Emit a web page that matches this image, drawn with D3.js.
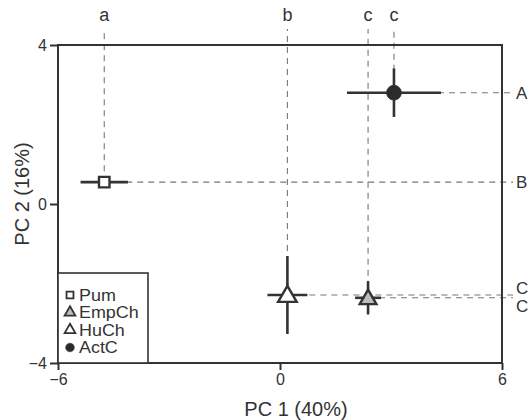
<!DOCTYPE html>
<html>
<head>
<meta charset="utf-8">
<script src="https://cdn.jsdelivr.net/npm/d3@7"></script>
<style>
  html, body { margin: 0; padding: 0; background: #fff; }
  svg { display: block; font-family: "Liberation Sans", Arial, sans-serif; }
</style>
</head>
<body>
<svg id="chart" width="532" height="420"></svg>
<script>
// Group means on the first two principal components with error bars
const groups   = ["Pum", "EmpCh", "HuCh", "ActC"];
const pc1      = [-4.75, 2.38, 0.2, 3.08];
const pc2      = [0.55, -2.36, -2.29, 2.8];
const pc1Err   = [0.64, 0.35, 0.54, 1.27];
const pc2Err   = [0.0, 0.42, 0.98, 0.61];
const pc1Group = ["a", "c", "b", "c"];   // letters along PC 1
const pc2Group = ["B", "C", "C", "A"];   // letters along PC 2
const xTicks   = [-6, 0, 6];
const yTicks   = [-4, 0, 4];
const xTitle   = "PC 1 (40%)";
const yTitle   = "PC 2 (16%)";

const ink = "#333";
const svg = d3.select("#chart");
const m = { left: 58, right: 502, top: 44, bottom: 363 };

const x = d3.scaleLinear().domain([-6, 6]).range([m.left, m.right]);
const y = d3.scaleLinear().domain([-4, 4]).range([m.bottom, m.top + 1]);

const pts = groups.map((g, i) => ({
  g, i, x: pc1[i], y: pc2[i], ex: pc1Err[i], ey: pc2Err[i],
  lx: pc1Group[i], ly: pc2Group[i]
}));

// dashed guides: up to the letter row, right to the letter column
const dash = svg.append("g")
  .attr("stroke", "#777").attr("stroke-width", 1.1).attr("stroke-dasharray", "6,5").attr("fill", "none");
dash.selectAll("line.v").data(pts).join("line").attr("class", "v")
  .attr("x1", d => x(d.x)).attr("x2", d => x(d.x))
  .attr("y1", d => y(d.y)).attr("y2", 29);
dash.selectAll("line.h").data(pts).join("line").attr("class", "h")
  .attr("x1", d => x(d.x)).attr("x2", 513)
  .attr("y1", d => y(d.y)).attr("y2", d => y(d.y));

// letters on top
svg.append("g").selectAll("text").data(pts).join("text")
  .attr("x", d => x(d.x)).attr("y", 21)
  .attr("text-anchor", "middle").attr("font-size", 18).attr("fill", ink)
  .text(d => d.lx);

// letters on the right, spread apart where they would collide
const right = pts.map(d => ({ t: d.ly, pos: y(d.y) })).sort((a, b) => a.pos - b.pos);
const gap = 18;
for (let k = 1; k < right.length; k++) {
  if (right[k].pos - right[k - 1].pos < gap) {
    const mid = (right[k].pos + right[k - 1].pos) / 2;
    right[k - 1].pos = mid - gap / 2;
    right[k].pos = mid + gap / 2;
  }
}
svg.append("g").selectAll("text").data(right).join("text")
  .attr("x", 516).attr("y", d => d.pos).attr("dy", "0.36em")
  .attr("font-size", 17).attr("fill", ink)
  .text(d => d.t);

// plot frame
svg.append("rect")
  .attr("x", m.left).attr("y", y(4))
  .attr("width", m.right - m.left).attr("height", y(-4) - y(4))
  .attr("fill", "none").attr("stroke", ink).attr("stroke-width", 2);

// axes
const xAxis = svg.append("g").attr("transform", `translate(0,${m.bottom})`)
  .call(d3.axisBottom(x).tickValues(xTicks).tickSize(7).tickPadding(4).tickFormat(d3.format("d")));
const yAxis = svg.append("g").attr("transform", `translate(${m.left},0)`)
  .call(d3.axisLeft(y).tickValues(yTicks).tickSize(8).tickPadding(3).tickFormat(d3.format("d")));
[xAxis, yAxis].forEach(a => {
  a.select(".domain").remove();
  a.selectAll(".tick line").attr("stroke", ink).attr("stroke-width", 2);
  a.selectAll(".tick text").attr("fill", ink).attr("font-size", 16)
    .attr("font-family", "'Liberation Sans', Arial, sans-serif");
});
yAxis.selectAll(".tick text").attr("dy", "0.35em");

// axis titles
svg.append("text").attr("x", 296).attr("y", 416).attr("text-anchor", "middle")
  .attr("font-size", 20).attr("fill", ink).text(xTitle);
svg.append("text").attr("transform", "translate(29,194) rotate(-90)")
  .attr("text-anchor", "middle").attr("font-size", 20).attr("fill", ink).text(yTitle);

// error bars
const eb = svg.append("g").attr("stroke", ink).attr("stroke-width", 2.6);
eb.selectAll("line.ex").data(pts).join("line").attr("class", "ex")
  .attr("x1", d => x(d.x - d.ex)).attr("x2", d => x(d.x + d.ex))
  .attr("y1", d => y(d.y)).attr("y2", d => y(d.y));
eb.selectAll("line.ey").data(pts.filter(d => d.ey > 0)).join("line").attr("class", "ey")
  .attr("x1", d => x(d.x)).attr("x2", d => x(d.x))
  .attr("y1", d => y(d.y - d.ey)).attr("y2", d => y(d.y + d.ey));

// marker styles per group
const style = {
  Pum:   { type: d3.symbolSquare,   size: 110, fill: "#fff",  sw: 2.4 },
  EmpCh: { type: d3.symbolTriangle, size: 120, fill: "#bdbdbd", sw: 2.4 },
  HuCh:  { type: d3.symbolTriangle, size: 150, fill: "#fff",  sw: 2.4 },
  ActC:  { type: d3.symbolCircle,   size: 170, fill: "#2b2b2b", sw: 1 }
};
svg.append("g").selectAll("path").data(pts).join("path")
  .attr("transform", d => `translate(${x(d.x)},${y(d.y) + (style[d.g].type === d3.symbolTriangle ? 1.5 : 0)})`)
  .attr("d", d => d3.symbol().type(style[d.g].type).size(style[d.g].size)())
  .attr("fill", d => style[d.g].fill).attr("stroke", ink)
  .attr("stroke-width", d => style[d.g].sw);

// legend
const lg = svg.append("g");
lg.append("rect").attr("x", m.left).attr("y", 273)
  .attr("width", 90).attr("height", m.bottom - 273)
  .attr("fill", "#fff").attr("stroke", ink).attr("stroke-width", 1.6);
const legendSize = { Pum: 48, EmpCh: 50, HuCh: 50, ActC: 60 };
const row = lg.selectAll("g.row").data(groups).join("g").attr("class", "row")
  .attr("transform", (g, i) => `translate(70,${295 + i * 17.5})`);
row.append("path")
  .attr("d", g => d3.symbol().type(style[g].type).size(legendSize[g])())
  .attr("fill", g => style[g].fill).attr("stroke", ink)
  .attr("stroke-width", g => g === "ActC" ? 0.5 : 1.8);
row.append("text").attr("transform", "translate(9,0) scale(1.12,1)").attr("dy", "0.36em")
  .attr("font-size", 16).attr("fill", ink).text(g => g);
</script>
</body>
</html>
